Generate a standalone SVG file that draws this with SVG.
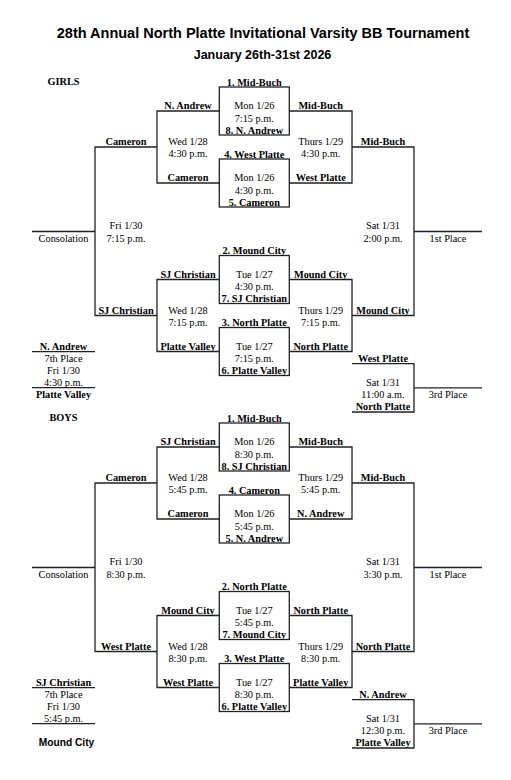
<svg xmlns="http://www.w3.org/2000/svg" width="511" height="780" viewBox="0 0 511 780">
<style>
.t{font-family:"Liberation Serif","Times New Roman",serif;font-size:10.3px;text-anchor:middle;fill:#000}
.b{font-weight:bold}
.h{font-family:"Liberation Sans",Arial,sans-serif;font-weight:bold;text-anchor:middle;fill:#000}
.ln{stroke:#222;stroke-width:1.3;fill:none}
</style>
<rect width="511" height="780" fill="#fff"/>
<g id="title">
<text class="h" x="263" y="37.7" font-size="14.5">28th Annual North Platte Invitational Varsity BB Tournament</text>
<text class="h" x="262.5" y="59" font-size="12.5">January 26th-31st 2026</text>
</g>

<!-- GIRLS -->
<g id="girls">
<g id="connectors-girls" class="ln">
<rect x="219.3" y="87" width="70" height="48"/>
<rect x="219.3" y="159" width="70" height="48"/>
<rect x="219.3" y="255.5" width="70" height="48"/>
<rect x="219.3" y="327.5" width="70" height="48"/>
<path d="M219.3,111H157V183H219.3"/>
<path d="M219.3,279.5H157V351.5H219.3"/>
<path d="M157,147H95V315.5H157"/>
<path d="M32,231.5H95"/>
<path d="M289.3,111H352V183H289.3"/>
<path d="M289.3,279.5H352V351.5H289.3"/>
<path d="M352,147H414V315.5H352"/>
<path d="M414,231.5H482"/>
<path d="M352,363.7H414V412H352"/>
<path d="M414,387.8H482"/>
<path d="M32,351.7H95"/>
<path d="M32,387.7H95"/>
</g>
<g id="g-label"><text class="t b" x="63.5" y="85">GIRLS</text></g>
<g id="g-m1">
<text class="t b" x="254.3" y="85.5">1. Mid-Buch</text>
<text class="t" x="254.3" y="109.3">Mon 1/26</text>
<text class="t" x="254.3" y="121.6">7:15 p.m.</text>
<text class="t b" x="254.3" y="133.5">8. N. Andrew</text>
</g>
<g id="g-m2">
<text class="t b" x="254.3" y="157.5">4. West Platte</text>
<text class="t" x="254.3" y="181.3">Mon 1/26</text>
<text class="t" x="254.3" y="193.6">4:30 p.m.</text>
<text class="t b" x="254.3" y="205.5">5. Cameron</text>
</g>
<g id="g-m3">
<text class="t b" x="254.3" y="254">2. Mound City</text>
<text class="t" x="254.3" y="277.8">Tue 1/27</text>
<text class="t" x="254.3" y="290.1">4:30 p.m.</text>
<text class="t b" x="254.3" y="302">7. SJ Christian</text>
</g>
<g id="g-m4">
<text class="t b" x="254.3" y="326">3. North Platte</text>
<text class="t" x="254.3" y="349.8">Tue 1/27</text>
<text class="t" x="254.3" y="362.1">7:15 p.m.</text>
<text class="t b" x="254.3" y="374">6. Platte Valley</text>
</g>
<g id="g-cons1">
<text class="t b" x="188" y="109">N. Andrew</text>
<text class="t" x="188" y="145">Wed 1/28</text>
<text class="t" x="188" y="157.3">4:30 p.m.</text>
<text class="t b" x="188" y="181">Cameron</text>
</g>
<g id="g-cons2">
<text class="t b" x="188" y="277.5">SJ Christian</text>
<text class="t" x="188" y="313.5">Wed 1/28</text>
<text class="t" x="188" y="325.8">7:15 p.m.</text>
<text class="t b" x="188" y="349.5">Platte Valley</text>
</g>
<g id="g-consfinal">
<text class="t b" x="126" y="145">Cameron</text>
<text class="t" x="126" y="229.3">Fri 1/30</text>
<text class="t" x="126" y="241.6">7:15 p.m.</text>
<text class="t b" x="126" y="313.5">SJ Christian</text>
<text class="t" x="63.5" y="241.6">Consolation</text>
</g>
<g id="g-seventh">
<text class="t b" x="63.5" y="349.7">N. Andrew</text>
<text class="t" x="63.5" y="361.7">7th Place</text>
<text class="t" x="63.5" y="373.7">Fri 1/30</text>
<text class="t" x="63.5" y="385.7">4:30 p.m.</text>
<text class="t b" x="63.5" y="397.7">Platte Valley</text>
</g>
<g id="g-semi1">
<text class="t b" x="320.7" y="109">Mid-Buch</text>
<text class="t" x="320.7" y="145">Thurs 1/29</text>
<text class="t" x="320.7" y="157.3">4:30 p.m.</text>
<text class="t b" x="320.7" y="181">West Platte</text>
</g>
<g id="g-semi2">
<text class="t b" x="320.7" y="277.5">Mound City</text>
<text class="t" x="320.7" y="313.5">Thurs 1/29</text>
<text class="t" x="320.7" y="325.8">7:15 p.m.</text>
<text class="t b" x="320.7" y="349.5">North Platte</text>
</g>
<g id="g-final">
<text class="t b" x="383" y="145">Mid-Buch</text>
<text class="t" x="383" y="229.3">Sat 1/31</text>
<text class="t" x="383" y="241.6">2:00 p.m.</text>
<text class="t b" x="383" y="313.5">Mound City</text>
<text class="t" x="448" y="241.6">1st Place</text>
</g>
<g id="g-third">
<text class="t b" x="383" y="361.7">West Platte</text>
<text class="t" x="383" y="385.8">Sat 1/31</text>
<text class="t" x="383" y="398.1">11:00 a.m.</text>
<text class="t b" x="383" y="410">North Platte</text>
<text class="t" x="448" y="397.8">3rd Place</text>
</g>
</g>

<!-- BOYS -->
<g id="boys" transform="translate(0,336)">
<g id="connectors-boys" class="ln">
<rect x="219.3" y="87" width="70" height="48"/>
<rect x="219.3" y="159" width="70" height="48"/>
<rect x="219.3" y="255.5" width="70" height="48"/>
<rect x="219.3" y="327.5" width="70" height="48"/>
<path d="M219.3,111H157V183H219.3"/>
<path d="M219.3,279.5H157V351.5H219.3"/>
<path d="M157,147H95V315.5H157"/>
<path d="M32,231.5H95"/>
<path d="M289.3,111H352V183H289.3"/>
<path d="M289.3,279.5H352V351.5H289.3"/>
<path d="M352,147H414V315.5H352"/>
<path d="M414,231.5H482"/>
<path d="M352,363.7H414V412H352"/>
<path d="M414,387.8H482"/>
<path d="M32,351.7H95"/>
<path d="M32,387.7H95"/>
</g>
<g id="b-label"><text class="t b" x="63.5" y="85">BOYS</text></g>
<g id="b-m1">
<text class="t b" x="254.3" y="85.5">1. Mid-Buch</text>
<text class="t" x="254.3" y="109.3">Mon 1/26</text>
<text class="t" x="254.3" y="121.6">8:30 p.m.</text>
<text class="t b" x="254.3" y="133.5">8. SJ Christian</text>
</g>
<g id="b-m2">
<text class="t b" x="254.3" y="157.5">4. Cameron</text>
<text class="t" x="254.3" y="181.3">Mon 1/26</text>
<text class="t" x="254.3" y="193.6">5:45 p.m.</text>
<text class="t b" x="254.3" y="205.5">5. N. Andrew</text>
</g>
<g id="b-m3">
<text class="t b" x="254.3" y="254">2. North Platte</text>
<text class="t" x="254.3" y="277.8">Tue 1/27</text>
<text class="t" x="254.3" y="290.1">5:45 p.m.</text>
<text class="t b" x="254.3" y="302">7. Mound City</text>
</g>
<g id="b-m4">
<text class="t b" x="254.3" y="326">3. West Platte</text>
<text class="t" x="254.3" y="349.8">Tue 1/27</text>
<text class="t" x="254.3" y="362.1">8:30 p.m.</text>
<text class="t b" x="254.3" y="374">6. Platte Valley</text>
</g>
<g id="b-cons1">
<text class="t b" x="188" y="109">SJ Christian</text>
<text class="t" x="188" y="145">Wed 1/28</text>
<text class="t" x="188" y="157.3">5:45 p.m.</text>
<text class="t b" x="188" y="181">Cameron</text>
</g>
<g id="b-cons2">
<text class="t b" x="188" y="277.5">Mound City</text>
<text class="t" x="188" y="313.5">Wed 1/28</text>
<text class="t" x="188" y="325.8">8:30 p.m.</text>
<text class="t b" x="188" y="349.5">West Platte</text>
</g>
<g id="b-consfinal">
<text class="t b" x="126" y="145">Cameron</text>
<text class="t" x="126" y="229.3">Fri 1/30</text>
<text class="t" x="126" y="241.6">8:30 p.m.</text>
<text class="t b" x="126" y="313.5">West Platte</text>
<text class="t" x="63.5" y="241.6">Consolation</text>
</g>
<g id="b-seventh">
<text class="t b" x="63.5" y="349.7">SJ Christian</text>
<text class="t" x="63.5" y="361.7">7th Place</text>
<text class="t" x="63.5" y="373.7">Fri 1/30</text>
<text class="t" x="63.5" y="385.7">5:45 p.m.</text>
<text class="h" x="66.5" y="409.7" font-size="10.2">Mound City</text>
</g>
<g id="b-semi1">
<text class="t b" x="320.7" y="109">Mid-Buch</text>
<text class="t" x="320.7" y="145">Thurs 1/29</text>
<text class="t" x="320.7" y="157.3">5:45 p.m.</text>
<text class="t b" x="320.7" y="181">N. Andrew</text>
</g>
<g id="b-semi2">
<text class="t b" x="320.7" y="277.5">North Platte</text>
<text class="t" x="320.7" y="313.5">Thurs 1/29</text>
<text class="t" x="320.7" y="325.8">8:30 p.m.</text>
<text class="t b" x="320.7" y="349.5">Platte Valley</text>
</g>
<g id="b-final">
<text class="t b" x="383" y="145">Mid-Buch</text>
<text class="t" x="383" y="229.3">Sat 1/31</text>
<text class="t" x="383" y="241.6">3:30 p.m.</text>
<text class="t b" x="383" y="313.5">North Platte</text>
<text class="t" x="448" y="241.6">1st Place</text>
</g>
<g id="b-third">
<text class="t b" x="383" y="361.7">N. Andrew</text>
<text class="t" x="383" y="385.8">Sat 1/31</text>
<text class="t" x="383" y="398.1">12:30 p.m.</text>
<text class="t b" x="383" y="410">Platte Valley</text>
<text class="t" x="448" y="397.8">3rd Place</text>
</g>
</g>
</svg>
